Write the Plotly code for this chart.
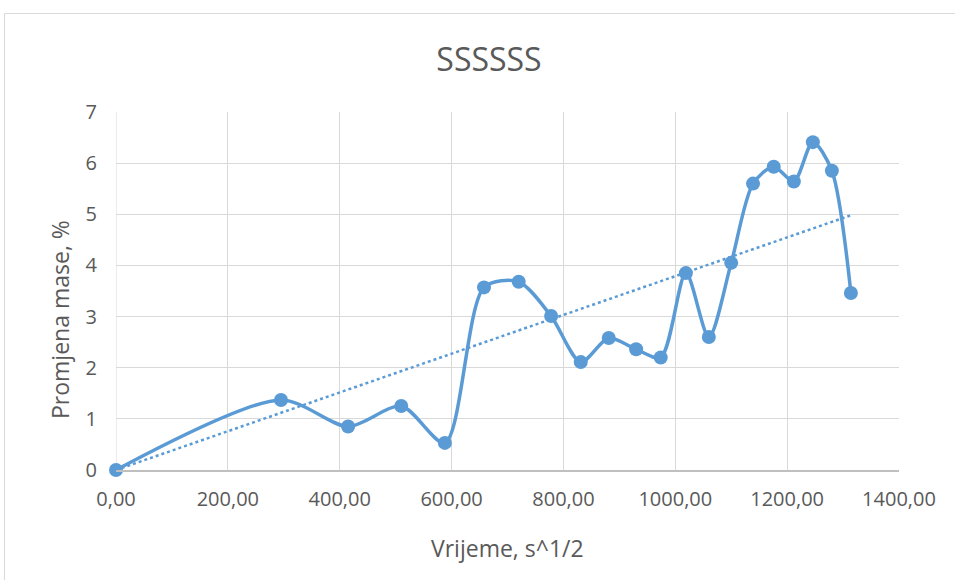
import numpy as np
import plotly.graph_objects as go

x_vals = [0, 295, 415, 510, 588, 658, 720, 778, 831, 881, 930, 974, 1019, 1060, 1100, 1139, 1176, 1212, 1246, 1280, 1314]
y_vals = [0, 1.37, 0.85, 1.25, 0.53, 3.57, 3.68, 3.01, 2.11, 2.58, 2.36, 2.20, 3.85, 2.60, 4.05, 5.60, 5.93, 5.64, 6.41, 5.85, 3.46]
x_tickvals = [0, 200, 400, 600, 800, 1000, 1200, 1400]
x_ticktext = ["0,00", "200,00", "400,00", "600,00", "800,00", "1000,00", "1200,00", "1400,00"]
y_tickvals = [0, 1, 2, 3, 4, 5, 6, 7]

blue = "#5B9BD5"
grey = "#595959"
font = "Open Sans"

# linear trendline through origin (Excel: intercept = 0)
xa = np.array(x_vals, float)
ya = np.array(y_vals, float)
slope = float((xa * ya).sum() / (xa * xa).sum())
tx = [0.0, float(xa.max())]
ty = [slope * v for v in tx]

# plot area in screenshot: x 116-899, y 112-470
FW, FH = 955, 580
L, T, W, H = 116, 112, 783, 358

def px(xs):
    return (xs - L) / W

def py(ys):
    return (T + H - ys) / H

fig = go.Figure()
fig.add_trace(go.Scatter(x=tx, y=ty, mode="lines",
                         line=dict(color=blue, width=2.5, dash="dot"),
                         showlegend=False, hoverinfo="skip"))
fig.add_trace(go.Scatter(x=x_vals, y=y_vals, mode="lines+markers", cliponaxis=False,
                         line=dict(color=blue, width=3.5, shape="spline", smoothing=0.8),
                         marker=dict(color=blue, size=14),
                         showlegend=False))

fig.update_layout(
    width=FW, height=FH,
    margin=dict(l=L, r=FW - L - W, t=T, b=FH - T - H),
    paper_bgcolor="white", plot_bgcolor="white",
    font=dict(family=font, color=grey),
    title=dict(text="SSSSSS", x=489 / FW, xanchor="center", y=1 - 60 / FH, yanchor="middle",
               font=dict(size=32, color=grey, family=font)),
    xaxis=dict(range=[0, 1400], tickvals=x_tickvals, ticktext=x_ticktext,
               showgrid=True, gridcolor="#D9D9D9", gridwidth=1,
               showline=True, linecolor="#BFBFBF", linewidth=1.5,
               zeroline=False, ticks="", tickfont=dict(size=20, color=grey),
               ticklabelstandoff=10),
    yaxis=dict(range=[0, 7], tickvals=y_tickvals,
               showgrid=True, gridcolor="#D9D9D9", gridwidth=1,
               showline=False, zeroline=False, ticks="",
               tickfont=dict(size=20, color=grey), ticklabelstandoff=18),
    annotations=[
        dict(text="Vrijeme, s^1/2", xref="paper", yref="paper", x=px(507), y=py(548),
             xanchor="center", yanchor="middle", showarrow=False,
             font=dict(size=23, color=grey, family=font)),
        dict(text="Promjena mase, %", xref="paper", yref="paper", x=px(60), y=py(320),
             xanchor="center", yanchor="middle", showarrow=False, textangle=-90,
             font=dict(size=23, color=grey, family=font)),
    ],
    shapes=[dict(type="line", xref="paper", yref="paper",
                 x0=px(4.5), x1=px(990), y0=py(13.5), y1=py(13.5),
                 line=dict(color="#D9D9D9", width=1), layer="below"),
            dict(type="line", xref="paper", yref="paper",
                 x0=px(4.5), x1=px(4.5), y0=py(13.5), y1=py(600),
                 line=dict(color="#D9D9D9", width=1), layer="below"),
            dict(type="line", xref="x", yref="paper", x0=0, x1=0, y0=0, y1=1,
                 line=dict(color="#D9D9D9", width=1), layer="below")],
)

fig.write_html("out.html", config={"displayModeBar": False},
               post_script="document.body.style.margin='0';"
                           "document.documentElement.style.overflow='hidden';"
                           "document.body.style.overflow='hidden';")
